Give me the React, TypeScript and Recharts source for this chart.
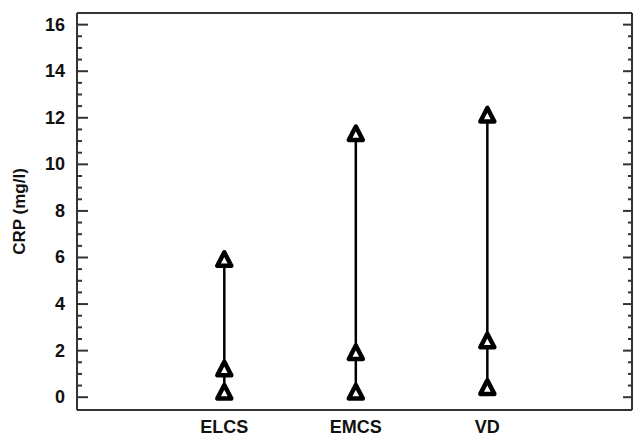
import { ComposedChart, Scatter, XAxis, YAxis, ReferenceLine } from 'recharts';

const categories = ['ELCS', 'EMCS', 'VD'];
const lowValues = [0.2, 0.2, 0.4];
const midValues = [1.2, 1.9, 2.4];
const highValues = [5.9, 11.3, 12.1];

const yLabelTicks = [0, 2, 4, 6, 8, 10, 12, 14, 16];
const yAllTicks = [
  0, 0.5, 1, 1.5, 2, 2.5, 3, 3.5, 4, 4.5, 5, 5.5, 6, 6.5, 7, 7.5, 8,
  8.5, 9, 9.5, 10, 10.5, 11, 11.5, 12, 12.5, 13, 13.5, 14, 14.5, 15, 15.5, 16,
];

const groups = categories.map((name, i) => ({
  name,
  points: [
    { x: i + 1, y: lowValues[i] },
    { x: i + 1, y: midValues[i] },
    { x: i + 1, y: highValues[i] },
  ],
}));

const xDomain = [-0.12, 4.1];
const yDomain = [-0.55, 16.5];
const axisColor = '#333';
const font = '"Liberation Sans", Arial, sans-serif';

function Triangle(props: any) {
  const { cx, cy } = props;
  if (cx == null || cy == null) return null;
  const d = `M${cx},${cy - 7.5} L${cx - 7},${cy + 6} L${cx + 7},${cy + 6} Z`;
  return <path d={d} fill="#fff" stroke="#000" strokeWidth={4.5} strokeLinejoin="round" />;
}

function LeftTick(props: any) {
  const { x, y, payload } = props;
  const major = yLabelTicks.includes(payload.value);
  return (
    <g>
      <line x1={x} x2={x + (major ? 11 : 5)} y1={y} y2={y} stroke={axisColor} strokeWidth={2} />
      {major && (
        <text x={x - 12} y={y} textAnchor="end" dominantBaseline="central"
          fontFamily={font} fontWeight="bold" fontSize={18} fill="#111">
          {payload.value}
        </text>
      )}
    </g>
  );
}

function RightTick(props: any) {
  const { x, y, payload } = props;
  const major = yLabelTicks.includes(payload.value);
  return <line x1={x - (major ? 9 : 4)} x2={x} y1={y} y2={y} stroke={axisColor} strokeWidth={2} />;
}

export default function App() {
  return (
    <div style={{ position: 'absolute', left: 0, top: 0, width: 633, height: 437, background: '#fff' }}>
      <ComposedChart width={633} height={437} margin={{ top: 12, right: 0, bottom: 0, left: 0 }}>
        <XAxis
          xAxisId="bottom"
          type="number"
          dataKey="x"
          domain={xDomain}
          allowDataOverflow
          ticks={[1, 2, 3]}
          tickFormatter={(v: number) => categories[v - 1]}
          height={27}
          tickSize={0}
          tickMargin={10}
          axisLine={{ stroke: axisColor, strokeWidth: 2 }}
          tick={{ fill: '#111', fontFamily: font, fontWeight: 'bold', fontSize: 18 }}
        />
        <XAxis xAxisId="top" orientation="top" type="number" domain={xDomain} allowDataOverflow
          height={1} tick={false} tickLine={false} axisLine={{ stroke: axisColor, strokeWidth: 2 }} />
        <YAxis
          yAxisId="left"
          type="number"
          dataKey="y"
          domain={yDomain}
          allowDataOverflow
          ticks={yAllTicks}
          interval={0}
          width={77}
          tickSize={0}
          tickMargin={0}
          tickLine={false}
          tick={<LeftTick />}
          axisLine={{ stroke: axisColor, strokeWidth: 2 }}
          label={{
            value: 'CRP (mg/l)', angle: -90, position: 'insideLeft', offset: 19,
            style: { fontFamily: font, fontWeight: 'bold', fontSize: 17, fill: '#111', textAnchor: 'middle' },
          }}
        />
        <YAxis
          yAxisId="right"
          orientation="right"
          type="number"
          domain={yDomain}
          allowDataOverflow
          ticks={yAllTicks}
          interval={0}
          width={1}
          tickSize={0}
          tickMargin={0}
          tickLine={false}
          tick={<RightTick />}
          axisLine={{ stroke: axisColor, strokeWidth: 2 }}
        />
        <ReferenceLine xAxisId="bottom" yAxisId="left" y={yDomain[1]} stroke={axisColor} strokeWidth={2} />
        <ReferenceLine xAxisId="bottom" yAxisId="left" x={xDomain[1]} stroke={axisColor} strokeWidth={2} />
        {groups.map((g) => (
          <Scatter
            key={g.name}
            name={g.name}
            data={g.points}
            xAxisId="bottom"
            yAxisId="left"
            line={{ stroke: '#000', strokeWidth: 2.5 }}
            shape={<Triangle />}
            isAnimationActive={false}
          />
        ))}
      </ComposedChart>
    </div>
  );
}
